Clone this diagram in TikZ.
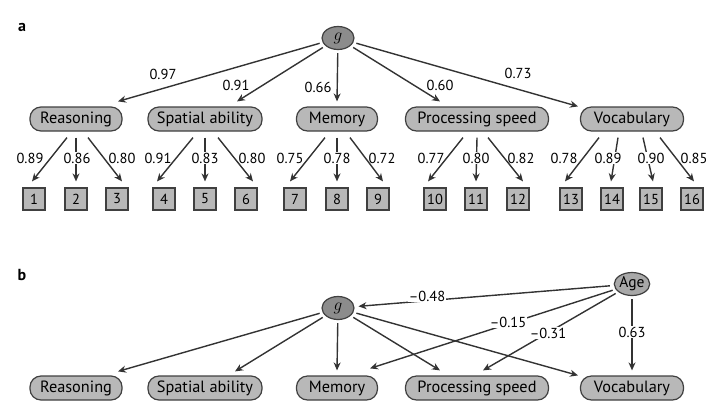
\documentclass[tikz,border=0pt]{standalone}
\usepackage{fontspec}
\setmainfont{PT Sans}
\usetikzlibrary{arrows.meta,shapes.geometric}
\definecolor{latfill}{HTML}{B8B8B8}
\definecolor{gfill}{HTML}{8C8C8C}
\definecolor{agefill}{HTML}{A8A8A8}
\definecolor{edgec}{HTML}{404040}
\definecolor{arrc}{HTML}{333333}
\begin{document}
\begin{tikzpicture}[x=1pt,y=-1pt,
  lat/.style={draw=edgec,line width=1.2pt,fill=latfill,rounded corners=11pt,minimum height=24pt,inner sep=0pt,font=\fontsize{16.3}{16.3}\selectfont},
  gnode/.style={draw=edgec,line width=1.2pt,fill=gfill,ellipse,minimum width=32pt,minimum height=23pt,inner sep=0pt,font=\fontsize{18}{18}\selectfont},
  agenode/.style={draw=edgec,line width=1.2pt,fill=agefill,ellipse,minimum width=34pt,minimum height=23pt,inner sep=0pt,font=\fontsize{15.5}{15.5}\selectfont},
  boxn/.style={draw=edgec,line width=1.2pt,fill=latfill,minimum size=22pt,inner sep=0pt,font=\fontsize{14.5}{14.5}\selectfont},
  arr/.style={draw=arrc,line width=1.4pt,-{Stealth[length=8pt,width=7pt]}},
  lab/.style={inner sep=1pt,font=\fontsize{14.5}{14.5}\selectfont},
  wlab/.style={lab,fill=white},
  panel/.style={font=\fontsize{16}{16}\selectfont\bfseries}
]
\useasboundingbox (0,0) rectangle (720,416);

% ---------- panel a ----------
\node[panel] (pa) at (22,27) {a};
\node[gnode] (g) at (338,38) {$g$};
\node[lat,minimum width=92pt] (R) at (76,119) {Reasoning};
\node[lat,minimum width=114pt] (S) at (205,119) {Spatial ability};
\node[lat,minimum width=81pt] (M) at (337,119) {Memory};
\node[lat,minimum width=143pt] (P) at (477,119) {Processing speed};
\node[lat,minimum width=103pt] (V) at (632,119) {Vocabulary};

\foreach \n/\x in {1/34,2/76,3/117,4/164,5/205,6/246,7/295,8/337,9/378,10/435,11/476,12/518,13/571,14/612,15/651,16/692}
  \node[boxn] (b\n) at (\x,199) {\n};

\draw[arr,shorten <=3pt] (g) -- ([xshift=42pt,yshift=5pt]R.north);
\draw[arr,shorten <=3pt] (g) -- ([xshift=32pt,yshift=5pt]S.north);
\draw[arr,shorten <=3pt] (g) -- ([yshift=5pt]M.north);
\draw[arr,shorten <=3pt] (g) -- ([xshift=-37pt,yshift=5pt]P.north);
\draw[arr,shorten <=3pt] (g) -- ([xshift=-54pt,yshift=0pt]V.north);
\node[lab] (la1) at (163,74) {0.97};
\node[lab] (la2) at (236,85) {0.91};
\node[lab] (la3) at (318,87) {0.66};
\node[lab] (la4) at (440,85) {0.60};
\node[lab] (la5) at (518,73) {0.73};

\foreach \p/\dx/\b/\ex in {R/-9/1/-2, R/0/2/0, R/12/3/5,
  S/-12/4/-7, S/0/5/0, S/13/6/7,
  M/-12/7/-5, M/0/8/0, M/13/9/5,
  P/-14/10/-7, P/0/11/0, P/11/12/5,
  V/-33/13/-6, V/-14/14/-1, V/11/15/2, V/28/16/2}
  \draw[arr] ([xshift=\dx pt,yshift=-6pt]\p.south) -- ([xshift=\ex pt,yshift=6pt]b\b.north);

\node[lab]  (l1)  at (30,158) {0.89};
\node[wlab] (l2)  at (77,158) {0.86};
\node[lab]  (l3)  at (122,158) {0.80};
\node[lab]  (l4)  at (158,158) {0.91};
\node[wlab] (l5)  at (205,158) {0.83};
\node[lab]  (l6)  at (252,158) {0.80};
\node[lab]  (l7)  at (290,158) {0.75};
\node[wlab] (l8)  at (337,158) {0.78};
\node[lab]  (l9)  at (382,158) {0.72};
\node[lab]  (l10) at (431,158) {0.77};
\node[wlab] (l11) at (476,158) {0.80};
\node[lab]  (l12) at (521,158) {0.82};
\node[lab]  (l13) at (564,158) {0.78};
\node[wlab] (l14) at (608,158) {0.89};
\node[wlab] (l15) at (651,158) {0.90};
\node[lab]  (l16) at (694,158) {0.85};

% ---------- panel b ----------
\node[panel] (pb) at (22,275) {b};
\node[gnode] (g2) at (338,308) {$g$};
\node[agenode] (age) at (632,284) {Age};
\node[lat,minimum width=92pt] (R2) at (76,388) {Reasoning};
\node[lat,minimum width=114pt] (S2) at (205,388) {Spatial ability};
\node[lat,minimum width=81pt] (M2) at (337,388) {Memory};
\node[lat,minimum width=143pt] (P2) at (477,388) {Processing speed};
\node[lat,minimum width=103pt] (V2) at (632,388) {Vocabulary};

\draw[arr,shorten <=3pt] (g2) -- ([xshift=42pt,yshift=4pt]R2.north);
\draw[arr,shorten <=3pt] (g2) -- ([xshift=30pt,yshift=4pt]S2.north);
\draw[arr,shorten <=3pt] (g2) -- ([yshift=5pt]M2.north);
\draw[arr,shorten <=3pt] (g2) -- ([xshift=-37pt,yshift=5pt]P2.north);
\draw[arr,shorten <=3pt] (g2) -- ([xshift=-54pt,yshift=0pt]V2.north);

\draw[arr,shorten <=4pt,shorten >=4pt] (age) -- (g2);
\draw[arr,shorten <=3pt] (age) -- ([xshift=33pt,yshift=7pt]M2.north);
\draw[arr,shorten <=3pt] (age) -- ([xshift=6pt,yshift=5pt]P2.north);
\draw[arr,shorten <=3pt] (age) -- ([yshift=5pt]V2.north);

\node[wlab] (lb1) at (427,296) {–0.48};
\node[wlab] (lb2) at (508,322) {–0.15};
\node[wlab] (lb3) at (548,333) {–0.31};
\node[wlab] (lb4) at (632,332) {0.63};
\end{tikzpicture}
\end{document}
